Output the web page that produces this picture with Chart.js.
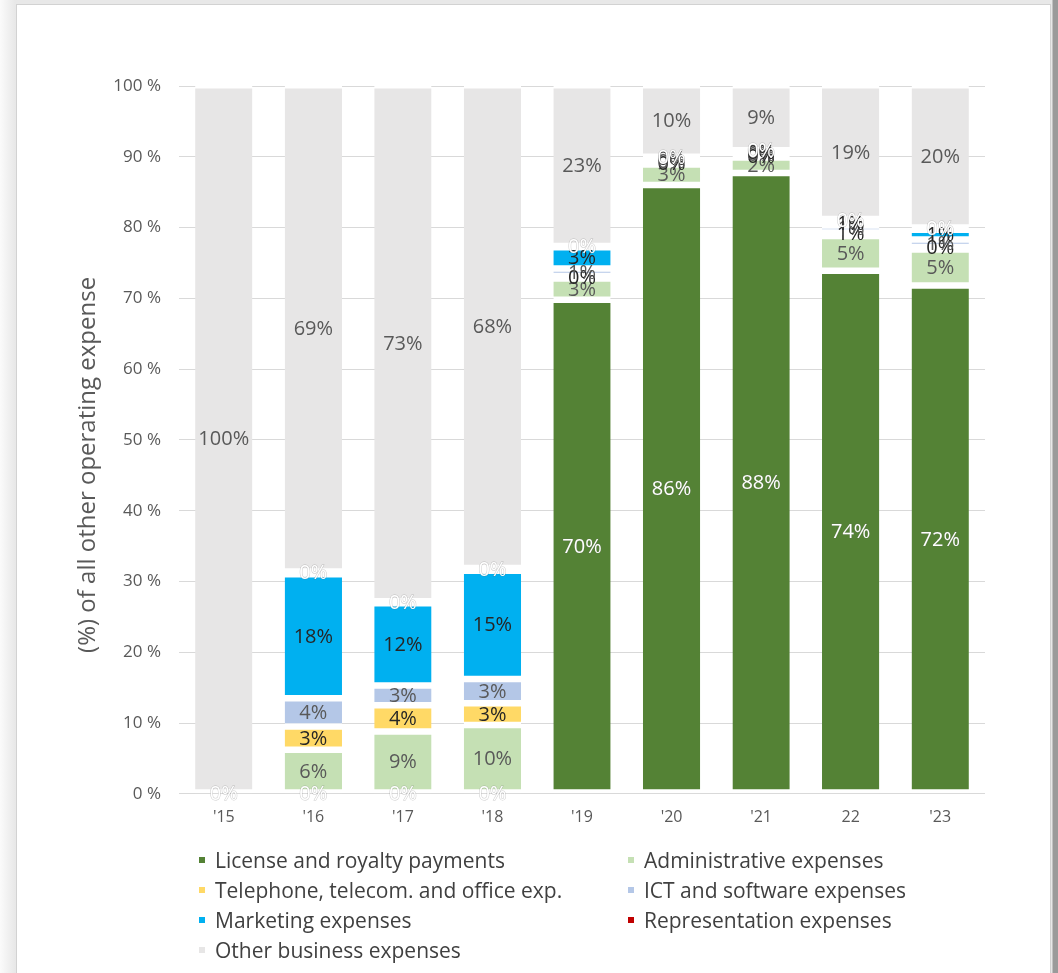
<!DOCTYPE html>
<html>
<head>
<meta charset="utf-8">
<script src="https://cdn.jsdelivr.net/npm/chart.js@4.4.0/dist/chart.umd.min.js"></script>
<style>
  html, body { margin: 0; padding: 0; }
  body {
    width: 1058px; height: 973px; position: relative; overflow: hidden;
    font-family: "Open Sans", sans-serif;
    background: linear-gradient(to right, #fbfbfb 0px, #e8e8e8 15px, #e8e8e8 1052px, #9a9a9a 1053px);
  }
  #card {
    position: absolute; left: 16px; top: 4px; width: 1035px; height: 990px;
    background: #fff; border: 1px solid #d2d2d2; box-sizing: border-box;
  }
  #wrap { position: absolute; left: 0; top: 0; width: 1058px; height: 848px; }
  #legend {
    position: absolute; left: 199px; top: 845px;
    display: grid; grid-template-columns: 429px 400px;
  }
  .item { display: flex; align-items: center; height: 30px; font-size: 21px; color: #404040; }
  .item i { display: inline-block; width: 6px; height: 6px; margin-right: 10px; }
</style>
</head>
<body>
<div id="card"></div>
<div id="wrap"><canvas id="chart"></canvas></div>
<div id="legend"></div>
<script>
// years
const labels = ["'15", "'16", "'17", "'18", "'19", "'20", "'21", "22", "'23"];

// share of all other operating expense, %
const license        = [0,    0,    0,    0,    69.7, 85.9, 87.6, 73.8, 71.7];
const administrative = [null, 6.1,  8.7,  9.6,  3.0,  2.9,  2.2,  4.9,  5.1];
const telephone      = [null, 3.3,  3.7,  3.1,  0.4,  0.3,  0.3,  0.6,  0.4];
const ict            = [null, 4.0,  2.8,  3.4,  1.0,  0.3,  0.3,  0.9,  1.0];
const marketing      = [null, 17.5, 11.6, 15.3, 3.0,  0.4,  0.3,  0.6,  1.4];
const representation = [null, 0.4,  0.3,  0.4,  0.2,  0.1,  0.1,  0.3,  0.3];
const other          = [100,  68.7, 72.9, 68.2, 22.7, 10.1, 9.2,  18.9, 20.1];

const seriesNames = [
  'License and royalty payments', 'Administrative expenses',
  'Telephone, telecom. and office exp.', 'ICT and software expenses',
  'Marketing expenses', 'Representation expenses', 'Other business expenses'
];
const yTitle = '(%) of all other operating expense';
const seriesData = [license, administrative, telephone, ict, marketing, representation, other];
const colors = ['#548235', '#c5e0b4', '#ffd966', '#b4c7e7', '#00b0f0', '#c00000', '#e7e6e6'];
const labelColors = ['#ffffff', '#595959', '#262626', '#595959', '#262626', '#ffffff', '#595959'];

// percentage labels in the middle of every segment
const valueLabels = {
  id: 'valueLabels',
  afterDatasetsDraw(chart) {
    const ctx = chart.ctx;
    ctx.save();
    ctx.font = '20px "Open Sans"';
    ctx.textAlign = 'center';
    ctx.textBaseline = 'middle';
    chart.data.datasets.forEach((ds, i) => {
      chart.getDatasetMeta(i).data.forEach((bar, j) => {
        const v = ds.data[j];
        if (v === null) return;
        const txt = Math.round(v) + '%';
        const y = (bar.y + bar.base) / 2;
        if (labelColors[i] === '#ffffff') {
          ctx.lineWidth = 1;
          ctx.strokeStyle = 'rgba(110,110,110,0.35)';
          ctx.strokeText(txt, bar.x, y);
        }
        ctx.fillStyle = labelColors[i];
        ctx.fillText(txt, bar.x, y);
      });
    });
    ctx.restore();
  }
};

// y axis title sits a bit below the middle of the plot in the original
const axisTitle = {
  id: 'axisTitle',
  afterDraw(chart) {
    const ctx = chart.ctx, a = chart.chartArea;
    ctx.save();
    ctx.translate(88, (a.top + a.bottom) / 2 + 25);
    ctx.rotate(-Math.PI / 2);
    ctx.font = '24px "Open Sans"';
    ctx.fillStyle = '#595959';
    ctx.textAlign = 'center';
    ctx.textBaseline = 'middle';
    ctx.fillText(yTitle, 0, 0);
    ctx.restore();
  }
};

const chart = new Chart(document.getElementById('chart'), {
  type: 'bar',
  data: {
    labels: labels,
    datasets: seriesData.map((d, i) => ({
      label: seriesNames[i],
      data: d,
      backgroundColor: colors[i],
      borderColor: '#ffffff',
      borderWidth: {top: 2.5, bottom: 4, left: 0, right: 0},
      borderSkipped: false,
      categoryPercentage: 0.8,
      barPercentage: 0.8
    }))
  },
  options: {
    responsive: true,
    maintainAspectRatio: false,
    animation: false,
    layout: { padding: {left: 0, right: 73, top: 86, bottom: 15} },
    plugins: { legend: {display: false}, tooltip: {enabled: false} },
    scales: {
      x: {
        stacked: true,
        grid: {display: false},
        border: {display: false},
        ticks: {color: '#595959', font: {family: 'Open Sans', size: 16}, padding: 6}
      },
      y: {
        stacked: true,
        min: 0, max: 100,
        afterFit: s => { s.width = 179; },
        grid: {color: '#d9d9d9', drawTicks: false},
        border: {display: false},
        ticks: {
          stepSize: 10,
          color: '#595959',
          font: {family: 'Open Sans', size: 17},
          padding: 18,
          callback: v => v + ' %'
        }
      }
    }
  },
  plugins: [valueLabels, axisTitle]
});

// legend in two columns
const legend = document.getElementById('legend');
seriesNames.forEach((name, i) => {
  const el = document.createElement('div');
  el.className = 'item';
  el.innerHTML = '<i style="background:' + colors[i] + '"></i><span>' + name + '</span>';
  legend.appendChild(el);
});
</script>
</body>
</html>
